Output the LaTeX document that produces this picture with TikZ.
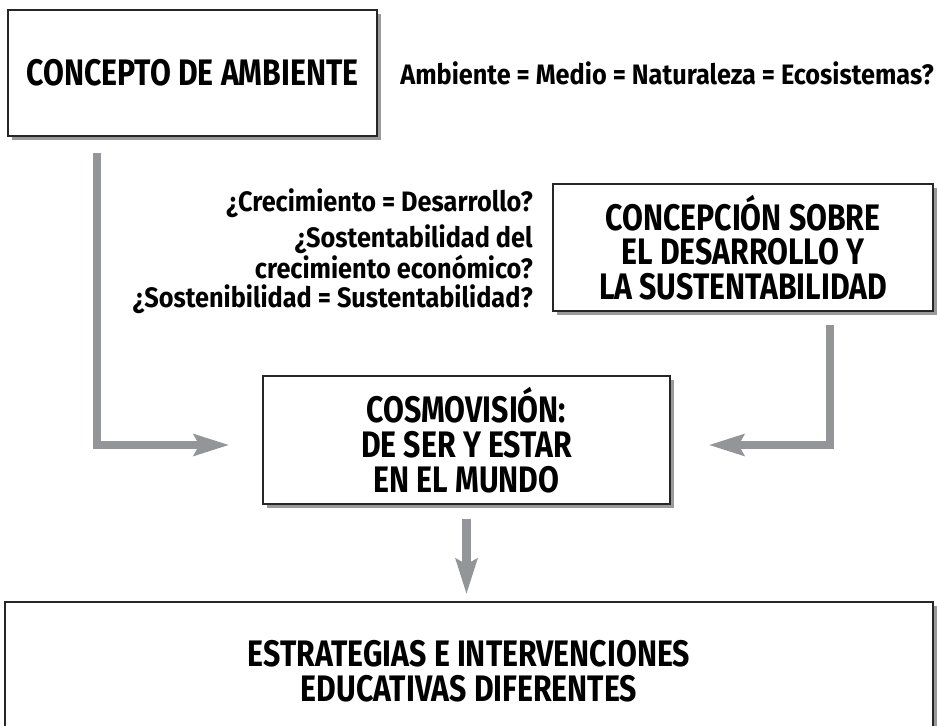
\documentclass[tikz,border=0pt]{standalone}
\usepackage{fontspec}
\setmainfont{Fira Sans}
\newfontfamily\narrowfont[FakeStretch=0.82]{Fira Sans}
\newfontfamily\qfont[FakeStretch=0.9]{Fira Sans}
\usetikzlibrary{positioning, arrows.meta, shadows}
\definecolor{arrowgray}{HTML}{939598}
\definecolor{shadowgray}{HTML}{9A9A9A}

\begin{document}
\begin{tikzpicture}[x=0.02cm, y=-0.02cm,
    box/.style={rectangle, draw=black!85, line width=0.8pt, fill=white, align=center,
        font=\narrowfont\fontsize{21}{19.8}\selectfont\bfseries,
        drop shadow={shadow xshift=2.2pt, shadow yshift=-2.2pt, fill=shadowgray, opacity=1}},
    arrow/.style={-{Stealth[length=20pt, width=12pt, inset=3pt]}, line width=4.6pt, arrowgray},
    question/.style={font=\qfont\fontsize{16}{13.5}\selectfont\bfseries, align=right, inner sep=0pt},
]
    \useasboundingbox (0,0) rectangle (937,726);

    % Boxes
    \node[box, minimum width=7.38cm, minimum height=2.52cm] (amb) at (192.5,73) {CONCEPTO DE AMBIENTE};
    \node[box, minimum width=7.6cm, minimum height=2.54cm] (des) at (743,247.5) {CONCEPCIÓN SOBRE\\EL DESARROLLO Y\\LA SUSTENTABILIDAD};
    \node[box, minimum width=8.14cm, minimum height=2.56cm] (cosmo) at (466.5,440) {COSMOVISIÓN:\\DE SER Y ESTAR\\EN EL MUNDO};
    \node[box, minimum width=18.56cm, minimum height=2.76cm] (estr) at (469,671) {ESTRATEGIAS E INTERVENCIONES\\EDUCATIVAS DIFERENTES};

    % Questions
    \node[question, anchor=west] (ecos) at (400,73) {Ambiente = Medio = Naturaleza = Ecosistemas?};
    \node[question, anchor=east] (q1) at (533,203) {¿Crecimiento = Desarrollo?};
    \node[question, anchor=east] (q2) at (533,252) {¿Sostentabilidad del\\crecimiento económico?};
    \node[question, anchor=east] (q3) at (533,299) {¿Sostenibilidad = Sustentabilidad?};

    % Arrows
    \coordinate (lbend) at (97,445);
    \coordinate (rbend) at (830,445);
    \draw[arrow, shorten <=0.32cm, shorten >=0.66cm] (amb.south -| lbend) |- (cosmo.west |- lbend);
    \draw[arrow, shorten <=0.26cm, shorten >=0.76cm] (des.south -| rbend) |- (cosmo.east |- rbend);
    \draw[arrow, shorten <=0.28cm, shorten >=0.14cm] (cosmo.south) -- (cosmo.south |- estr.north);
\end{tikzpicture}
\end{document}
